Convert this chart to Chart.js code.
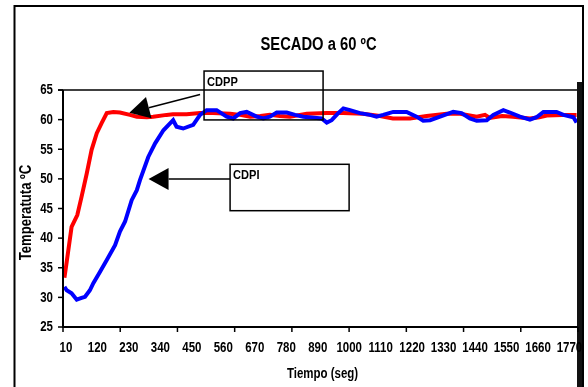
<!DOCTYPE html>
<html>
<head>
<meta charset="utf-8">
<script src="https://cdn.jsdelivr.net/npm/chart.js@4/dist/chart.umd.min.js"></script>
<style>
  html, body { margin: 0; padding: 0; background: #fff; }
  canvas { display: block; }
</style>
</head>
<body>
<canvas id="c" width="588" height="387"></canvas>
<script>
// ---- Data ----
const chartTitle = 'SECADO a 60 ºC';
const xTitle = 'Tiempo (seg)';
const yTitle = 'Temperatuta ºC';

// x tick labels (seconds) and y tick values
const xTickLabels = [10, 120, 230, 340, 450, 560, 670, 780, 890, 1000, 1110, 1220, 1330, 1440, 1550, 1660, 1770];
const xTickMarks = [5, 205, 405, 605, 805, 1005, 1205, 1405, 1605, 1805];
const yTickValues = [25, 30, 35, 40, 45, 50, 55, 60, 65];

// CDPP (red)
const cdppTime = [10, 18, 35, 55, 70, 88, 105, 123, 140, 158, 181, 204, 239, 263, 298, 320, 367, 389, 437, 484,
  529, 589, 624, 659, 695, 728, 763, 798, 857, 927, 984, 1053, 1113, 1158, 1218, 1276, 1346, 1393, 1451, 1480,
  1497, 1540, 1578, 1637, 1670, 1696, 1750, 1800];
const cdppTemp = [33.3, 36.0, 41.9, 43.9, 47.0, 50.9, 54.9, 57.7, 59.4, 61.1, 61.3, 61.2, 60.8, 60.5, 60.4, 60.5, 60.8, 60.9, 60.9, 61.1,
  61.1, 61.0, 60.8, 60.5, 60.6, 60.8, 60.6, 60.5, 61.0, 61.1, 61.1, 61.0, 60.6, 60.2, 60.2, 60.6, 61.0, 61.0, 60.5, 60.8,
  60.3, 60.6, 60.5, 60.2, 60.4, 60.7, 60.8, 60.8];

// CDPI (blue)
const cdpiTime = [10, 18, 35, 53, 70, 82, 99, 111, 134, 158, 187, 204, 222, 245, 263, 274, 303, 327, 356, 390,
  402, 425, 460, 484, 507, 542, 577, 600, 624, 647, 682, 705, 728, 752, 787, 816, 845, 909, 927, 944,
  967, 985, 1008, 1043, 1078, 1101, 1124, 1159, 1206, 1241, 1264, 1288, 1323, 1369, 1398, 1427, 1451, 1486, 1509, 1544,
  1567, 1602, 1637, 1660, 1684, 1730, 1754, 1789, 1800];
const cdpiTemp = [31.8, 31.2, 30.7, 29.6, 29.9, 30.1, 31.2, 32.4, 34.3, 36.3, 38.8, 41.1, 42.8, 46.4, 48.1, 49.8, 53.7, 56.0, 58.2, 59.9,
  58.8, 58.5, 59.1, 60.8, 61.6, 61.6, 60.5, 60.2, 61.1, 61.3, 60.5, 60.2, 60.5, 61.2, 61.2, 60.8, 60.5, 60.2, 59.5, 59.9,
  61.1, 61.9, 61.6, 61.1, 60.8, 60.5, 60.8, 61.3, 61.3, 60.5, 59.8, 59.9, 60.5, 61.3, 61.1, 60.2, 59.8, 59.9, 60.8, 61.6,
  61.2, 60.5, 60.0, 60.4, 61.3, 61.3, 60.8, 60.4, 59.5];

// Callout boxes and arrows, in data units (time, temperature)
const callouts = [
  { text: 'CDPP', box: [498, 914, 68.2, 59.95], tail: [484, 64.24], tip: [237, 61.17] },
  { text: 'CDPI', box: [589, 1005, 52.46, 44.63], tail: [589, 50.0], tip: [304, 50.0] }
];

// ---- Fonts (narrow bold look, as in the original) ----
const FAMILY = '"Liberation Sans", Arial, sans-serif';
const SQUEEZE = 0.82;
const TITLE_SIZE = 18;
const TICK_SIZE = 14;
const XT_SIZE = 14;
const YT_SIZE = 16;
const NOTE_SIZE = 13.5;

// ---- Geometry ----
const PLOT = { left: 63, right: 578, top: 90, bottom: 327 };
const W = 588, H = 387;

function squeezedText(ctx, text, x, y, size, align, baseline, rotate) {
  ctx.save();
  ctx.translate(x, y);
  if (rotate) ctx.rotate(-Math.PI / 2);
  ctx.scale(SQUEEZE, 1);
  ctx.font = 'bold ' + size + 'px ' + FAMILY;
  ctx.textAlign = align;
  ctx.textBaseline = baseline;
  ctx.fillStyle = '#000';
  ctx.fillText(text, 0, 0);
  ctx.restore();
}

const decor = {
  id: 'decor',
  afterDatasetsDraw(chart) {
    const { ctx, chartArea: a, scales: { x, y } } = chart;
    ctx.save();
    ctx.strokeStyle = '#000';
    ctx.fillStyle = '#000';
    ctx.lineCap = 'butt';

    // outer frame
    ctx.lineWidth = 2;
    ctx.beginPath();
    ctx.moveTo(14.5, H + 2);
    ctx.lineTo(14.5, 6);
    ctx.lineTo(583, 6);
    ctx.lineTo(583, H + 2);
    ctx.stroke();

    // plot top border
    ctx.lineWidth = 1.5;
    ctx.beginPath();
    ctx.moveTo(a.left - 5, a.top);
    ctx.lineTo(a.right, a.top);
    ctx.stroke();

    // thick right bar
    ctx.fillStyle = '#111';
    ctx.fillRect(a.right - 1, a.top - 8, 5, H - a.top + 10);
    ctx.fillStyle = '#000';

    // y axis line, tick marks and labels
    ctx.lineWidth = 2;
    ctx.beginPath();
    ctx.moveTo(a.left, a.top);
    ctx.lineTo(a.left, a.bottom + 1);
    ctx.stroke();
    ctx.lineWidth = 1.5;
    y.ticks.forEach(t => {
      const py = y.getPixelForValue(t.value);
      ctx.beginPath();
      ctx.moveTo(a.left - 5, py);
      ctx.lineTo(a.left, py);
      ctx.stroke();
      squeezedText(ctx, String(t.value), a.left - 10, py + 0.5, TICK_SIZE, 'right', 'middle');
    });

    // x axis line, tick marks and labels
    ctx.lineWidth = 2;
    ctx.beginPath();
    ctx.moveTo(a.left - 1, a.bottom);
    ctx.lineTo(a.right, a.bottom);
    ctx.stroke();
    ctx.lineWidth = 1.5;
    xTickMarks.forEach(t => {
      const px = x.getPixelForValue(t);
      ctx.beginPath();
      ctx.moveTo(px, a.bottom);
      ctx.lineTo(px, a.bottom + 5);
      ctx.stroke();
    });
    x.ticks.forEach(t => {
      squeezedText(ctx, String(t.value), x.getPixelForValue(t.value) + 1.5, a.bottom + 21, TICK_SIZE, 'center', 'middle');
    });

    // titles
    const cx = (a.left + a.right) / 2;
    squeezedText(ctx, chartTitle, cx - 2, 45, TITLE_SIZE, 'center', 'middle');
    squeezedText(ctx, xTitle, cx + 2, 374, XT_SIZE, 'center', 'middle');
    squeezedText(ctx, yTitle, 27, (a.top + a.bottom) / 2 + 4, YT_SIZE, 'center', 'middle', true);

    // callouts
    callouts.forEach(c => {
      const x0 = x.getPixelForValue(c.box[0]), x1 = x.getPixelForValue(c.box[1]);
      const y0 = y.getPixelForValue(c.box[2]), y1 = y.getPixelForValue(c.box[3]);
      ctx.lineWidth = 1.5;
      ctx.strokeRect(x0, y0, x1 - x0, y1 - y0);
      squeezedText(ctx, c.text, x0 + 3, y0 + 4, NOTE_SIZE, 'left', 'top');

      const tx = x.getPixelForValue(c.tail[0]), ty = y.getPixelForValue(c.tail[1]);
      const hx = x.getPixelForValue(c.tip[0]), hy = y.getPixelForValue(c.tip[1]);
      const dx = tx - hx, dy = ty - hy;
      const len = Math.hypot(dx, dy);
      const ux = dx / len, uy = dy / len;
      const bx = hx + ux * 20, by = hy + uy * 20;
      ctx.beginPath();
      ctx.moveTo(tx, ty);
      ctx.lineTo(bx, by);
      ctx.stroke();
      ctx.beginPath();
      ctx.moveTo(hx, hy);
      ctx.lineTo(bx - uy * 11, by + ux * 11);
      ctx.lineTo(bx + uy * 11, by - ux * 11);
      ctx.closePath();
      ctx.fill();
    });
    ctx.restore();
  }
};

const toPoints = (ts, vs) => ts.map((t, i) => ({ x: t, y: vs[i] }));

new Chart(document.getElementById('c'), {
  type: 'line',
  data: {
    datasets: [
      {
        label: 'CDPI',
        data: toPoints(cdpiTime, cdpiTemp),
        borderColor: '#0000FF',
        borderWidth: 4,
        pointRadius: 0,
        tension: 0,
        fill: false
      },
      {
        label: 'CDPP',
        data: toPoints(cdppTime, cdppTemp),
        borderColor: '#FF0000',
        borderWidth: 4,
        pointRadius: 0,
        tension: 0,
        fill: false
      }
    ]
  },
  options: {
    responsive: false,
    devicePixelRatio: 1,
    animation: false,
    layout: { padding: { left: 0, right: W - PLOT.right, top: PLOT.top, bottom: 0 } },
    plugins: {
      legend: { display: false },
      tooltip: { enabled: false },
      title: { display: false }
    },
    scales: {
      x: {
        type: 'linear',
        min: 5,
        max: 1805,
        grid: { display: false, drawTicks: false },
        border: { display: false },
        afterBuildTicks: s => { s.ticks = xTickLabels.map(v => ({ value: v })); },
        afterFit: s => { s.height = H - PLOT.bottom; s.paddingLeft = 0; s.paddingRight = 0; },
        ticks: { display: false, autoSkip: false, maxRotation: 0 },
        title: { display: false }
      },
      y: {
        type: 'linear',
        min: 25,
        max: 65,
        grid: { display: false, drawTicks: false },
        border: { display: false },
        afterBuildTicks: s => { s.ticks = yTickValues.map(v => ({ value: v })); },
        afterFit: s => { s.width = PLOT.left; s.paddingTop = 0; s.paddingBottom = 0; },
        ticks: { display: false },
        title: { display: false }
      }
    }
  },
  plugins: [decor]
});
</script>
</body>
</html>
